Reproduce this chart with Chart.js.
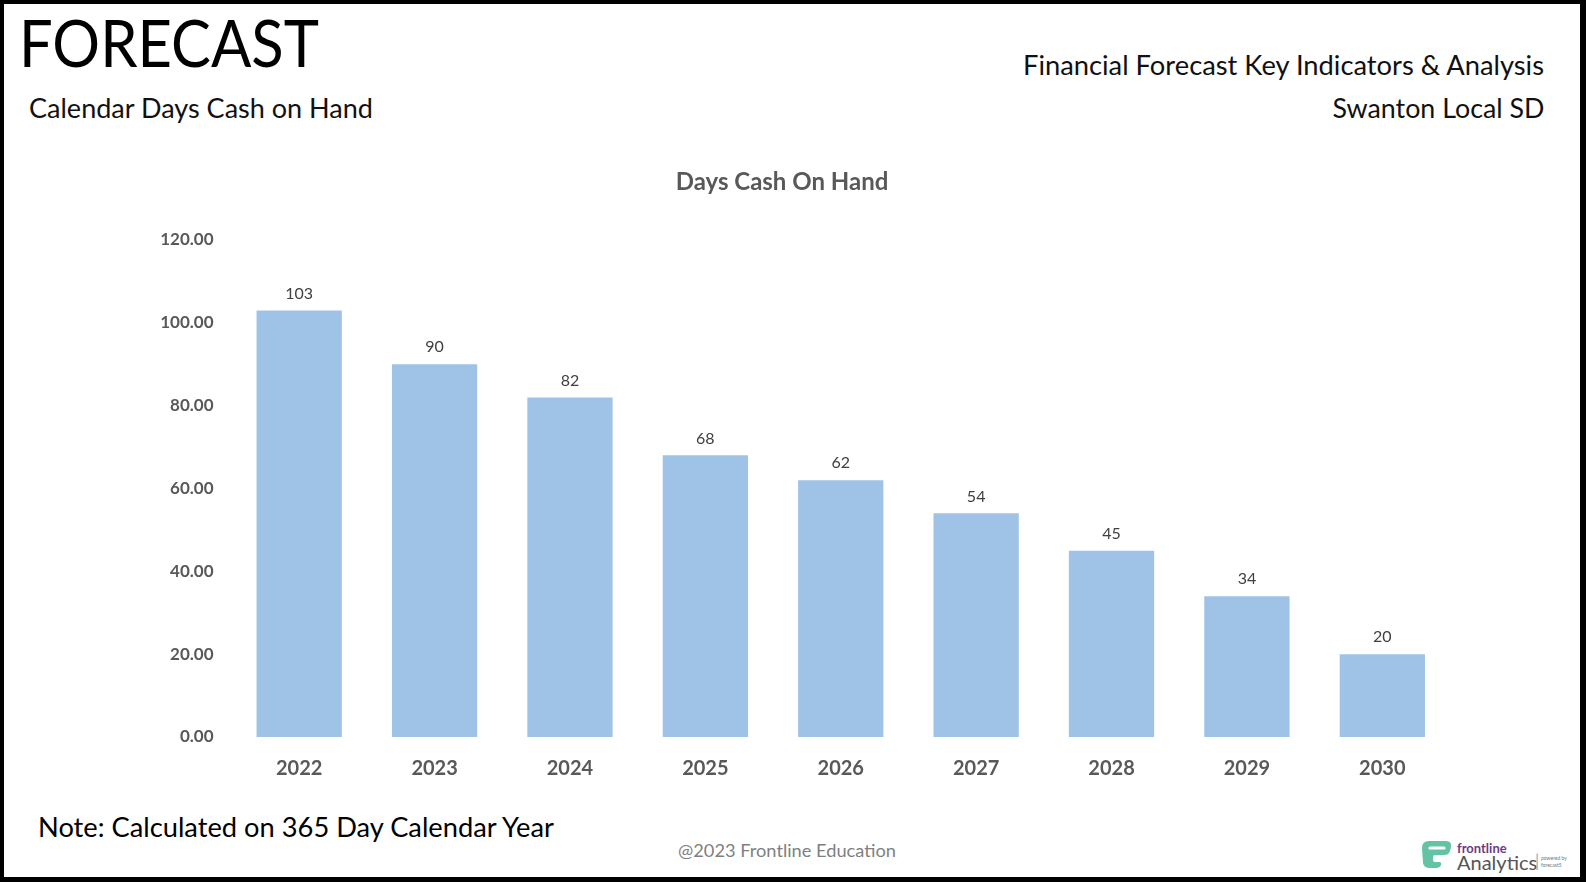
<!DOCTYPE html>
<html>
<head>
<meta charset="utf-8">
<script src="https://cdn.jsdelivr.net/npm/chart.js@4.4.1/dist/chart.umd.min.js"></script>
<style>
  html, body { margin: 0; padding: 0; background: #fff; }
  body { width: 1586px; height: 882px; position: relative; overflow: hidden; font-family: Lato, "Open Sans", sans-serif; }
  .frame { position: absolute; left: 0; top: 0; width: 1586px; height: 882px; box-sizing: border-box;
           border-style: solid; border-color: #000; border-width: 4px 6px 5px 4px; pointer-events: none; z-index: 5; }
  .t { position: absolute; white-space: nowrap; line-height: 1; }
  #chartBox { position: absolute; left: 114px; top: 160px; width: 1336px; height: 637px; }
</style>
</head>
<body>
<div class="frame"></div>
<div class="t fit" id="hForecast" data-w="300" data-x="19" data-cy="42" style="font-size:66px;color:#000;">FORECAST</div>
<div class="t fit" id="hSub" data-w="344" data-x="29" data-cy="108" style="font-size:26px;color:#111;">Calendar Days Cash on Hand</div>
<div class="t fit" id="hRight1" data-w="521" data-rx="1544" data-cy="65" style="font-size:26px;color:#111;">Financial Forecast Key Indicators &amp; Analysis</div>
<div class="t fit" id="hRight2" data-w="212" data-rx="1544" data-cy="108" style="font-size:26px;color:#111;">Swanton Local SD</div>
<div class="t fit" id="note" data-w="516" data-x="38" data-cy="826" style="font-size:27px;color:#000;">Note: Calculated on 365 Day Calendar Year</div>
<div class="t fit" id="copy" data-w="218" data-x="678" data-cy="850" style="font-size:17px;color:#7f7f7f;">@2023 Frontline Education</div>

<!-- logo -->
<svg style="position:absolute;left:1419px;top:839px;" width="35" height="31" viewBox="0 0 35 31">
  <path d="M3 9 Q3 2 10 2 L27 2 Q33 2 32 8 L31 12 Q30 16 25 16 L16 16 Q14 16 14 18 L14 21 Q14 23 16 23 L20 23 Q23 23 22 26 Q21 29 17 29 L11 29 Q5 29 4 24 Z" fill="#63c3a4"/>
  <path d="M11 9 L25 9" stroke="#fff" stroke-width="3.2" stroke-linecap="round"/>
</svg>
<div class="t" style="left:1457px;top:842px;font-size:13px;font-weight:bold;color:#6e3a86;">frontline</div>
<div class="t fit2" style="left:1457px;top:852px;font-size:20px;color:#555;">Analytics</div>
<div class="t" style="left:1535px;top:852px;font-size:17px;color:#aaa;">|</div>
<div class="t" style="left:1541px;top:855px;font-size:5px;color:#777;line-height:1.3;">powered by<br>forecast5</div>

<div id="chartBox"><canvas id="c"></canvas></div>

<script>
// ---- data ----
const categories = ["2022", "2023", "2024", "2025", "2026", "2027", "2028", "2029", "2030"];
const daysCashOnHand = [103, 90, 82, 68, 62, 54, 45, 34, 20];
const chartTitle = "Days Cash On Hand";
const yTickValues = [0, 20, 40, 60, 80, 100, 120];

// ---- fit header texts ----
document.querySelectorAll('.fit').forEach(el => {
  const w = el.getBoundingClientRect().width;
  const target = parseFloat(el.dataset.w);
  const s = target / w;
  el.style.transformOrigin = el.dataset.rx ? 'right center' : 'left center';
  el.style.transform = 'scaleX(' + s.toFixed(4) + ')';
  const h = el.getBoundingClientRect().height;
  el.style.top = (parseFloat(el.dataset.cy) - h / 2) + 'px';
  if (el.dataset.rx) {
    el.style.left = (parseFloat(el.dataset.rx) - w) + 'px';
  } else {
    el.style.left = el.dataset.x + 'px';
  }
});

// ---- value labels plugin ----
const valueLabels = {
  id: 'valueLabels',
  afterDatasetsDraw(chart) {
    const ctx = chart.ctx;
    const meta = chart.getDatasetMeta(0);
    ctx.save();
    ctx.font = '16px Lato, "Open Sans", sans-serif';
    ctx.fillStyle = '#404040';
    ctx.textAlign = 'center';
    ctx.textBaseline = 'middle';
    meta.data.forEach((bar, i) => {
      ctx.fillText(String(chart.data.datasets[0].data[i]), bar.x, bar.y - 17);
    });
    ctx.restore();
  }
};

Chart.defaults.font.family = 'Lato, "Open Sans", sans-serif';

new Chart(document.getElementById('c'), {
  type: 'bar',
  data: {
    labels: categories,
    datasets: [{
      label: chartTitle,
      data: daysCashOnHand,
      backgroundColor: '#9fc3e7',
      borderWidth: 0,
      categoryPercentage: 1,
      barPercentage: 0.63
    }]
  },
  options: {
    responsive: true,
    maintainAspectRatio: false,
    animation: false,
    layout: { padding: { top: 0, left: 0, right: 0, bottom: 0 } },
    plugins: {
      legend: { display: false },
      tooltip: { enabled: false },
      title: {
        display: true,
        text: chartTitle,
        color: '#595959',
        font: { size: 24, weight: 'bold' },
        padding: { top: 8, bottom: 43.2 }
      }
    },
    scales: {
      x: {
        grid: { display: false },
        border: { display: false },
        ticks: { color: '#595959', font: { size: 20, weight: 'bold' }, padding: 12 },
        afterFit(s) { s.height = 60; }
      },
      y: {
        min: 0,
        max: 120,
        grid: { display: false },
        border: { display: false },
        afterBuildTicks(s) { s.ticks = yTickValues.map(v => ({ value: v })); },
        ticks: {
          color: '#595959',
          font: { size: 17, weight: 'bold' },
          padding: 10,
          callback: v => Number(v).toFixed(2)
        },
        afterFit(s) { s.width = 117.5; }
      }
    }
  },
  plugins: [valueLabels]
});
</script>
</body>
</html>
